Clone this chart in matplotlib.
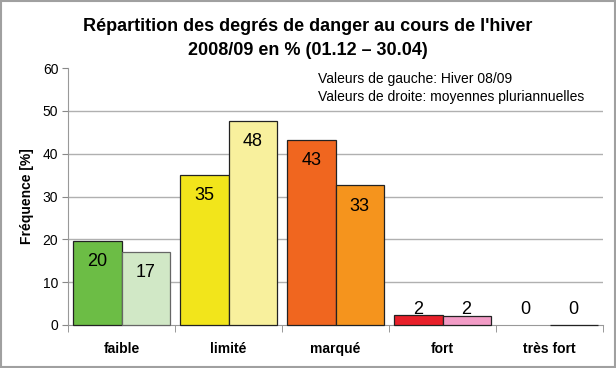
import matplotlib
matplotlib.use("Agg")
import matplotlib.pyplot as plt
from matplotlib.patches import Rectangle
import numpy as np

categories = ["faible", "limité", "marqué", "fort", "très fort"]
hiver_0809 = [19.7, 35.0, 43.2, 2.3, 0.0]
moyennes = [17.1, 47.7, 32.6, 2.0, 0.0]
colors_left = ["#6cbd45", "#f2e51b", "#f0661f", "#e8202a", "#e8202a"]
colors_right = ["#d1e8c6", "#f8f09d", "#f5941d", "#f29cc6", "#f29cc6"]
edges_left = ["#222222", "#222222", "#222222", "#222222", "none"]
edges_right = ["#666666", "#222222", "#222222", "#222222", "#222222"]
yticks = [0, 10, 20, 30, 40, 50, 60]

plt.rcParams['font.family'] = ['Liberation Sans', 'DejaVu Sans']

fig = plt.figure(figsize=(6.16, 3.68), dpi=100)
ax = fig.add_axes([68/616, 43/368, 535/616, 257/368])

x = np.arange(len(categories))
w = 0.45
bl = ax.bar(x - 0.225, hiver_0809, w, color=colors_left, edgecolor=edges_left, linewidth=0.9, zorder=3)
br = ax.bar(x + 0.225, moyennes, w, color=colors_right, edgecolor=edges_right, linewidth=0.9, zorder=3)
for b in list(bl) + list(br):
    b.set_clip_on(False)

def label(bars, vals):
    for b, v in zip(bars, vals):
        cx = b.get_x() + b.get_width() / 2
        txt = f"{round(v):d}"
        if v >= 10:
            ax.annotate(txt, (cx, v), xytext=(0, -15), textcoords="offset points",
                        ha="center", va="center", fontsize=13, zorder=4)
        else:
            ax.annotate(txt, (cx, 0), xytext=(0, 11.5), textcoords="offset points",
                        ha="center", va="center", fontsize=13, zorder=4)

label(bl, hiver_0809)
label(br, moyennes)

ax.set_xlim(-0.5, 4.5)
ax.set_ylim(0, 60)
ax.set_yticks(yticks)
ax.tick_params(axis="y", labelsize=10, length=4, color="#888888", pad=3)
ax.set_xticks(x)
ax.set_xticklabels(categories, fontsize=10, fontweight="bold")
ax.tick_params(axis="x", length=0, pad=12)
ax.set_xticks(np.arange(-0.5, 5, 1), minor=True)
ax.tick_params(axis="x", which="minor", length=5, color="#888888")
for yv in yticks[1:-1]:
    ax.axhline(yv, color="#b0b0b0", linewidth=1, zorder=1)
for s in ["top", "right"]:
    ax.spines[s].set_visible(False)
ax.spines["left"].set_color("#999999")
ax.spines["bottom"].set_color("#999999")
ax.set_ylabel("Fréquence [%]", fontsize=10, fontweight="bold", labelpad=6)

fig.text(0.5, 1 - 31/368, "Répartition des degrés de danger au cours de l'hiver",
         ha="center", va="baseline", fontsize=13, fontweight="bold")
fig.text(0.5, 1 - 55/368, "2008/09 en % (01.12 – 30.04)",
         ha="center", va="baseline", fontsize=13, fontweight="bold")
fig.text(318/616, 1 - 79/368, "Valeurs de gauche: Hiver 08/09", fontsize=10, va="center")
fig.text(318/616, 1 - 97/368, "Valeurs de droite: moyennes pluriannuelles", fontsize=10, va="center")

fig.patches.append(Rectangle((0.001, 0.002), 0.997, 0.995, transform=fig.transFigure,
                             fill=False, edgecolor="#a0a0a0", linewidth=1.5))

fig.savefig("out.png", dpi=100)
